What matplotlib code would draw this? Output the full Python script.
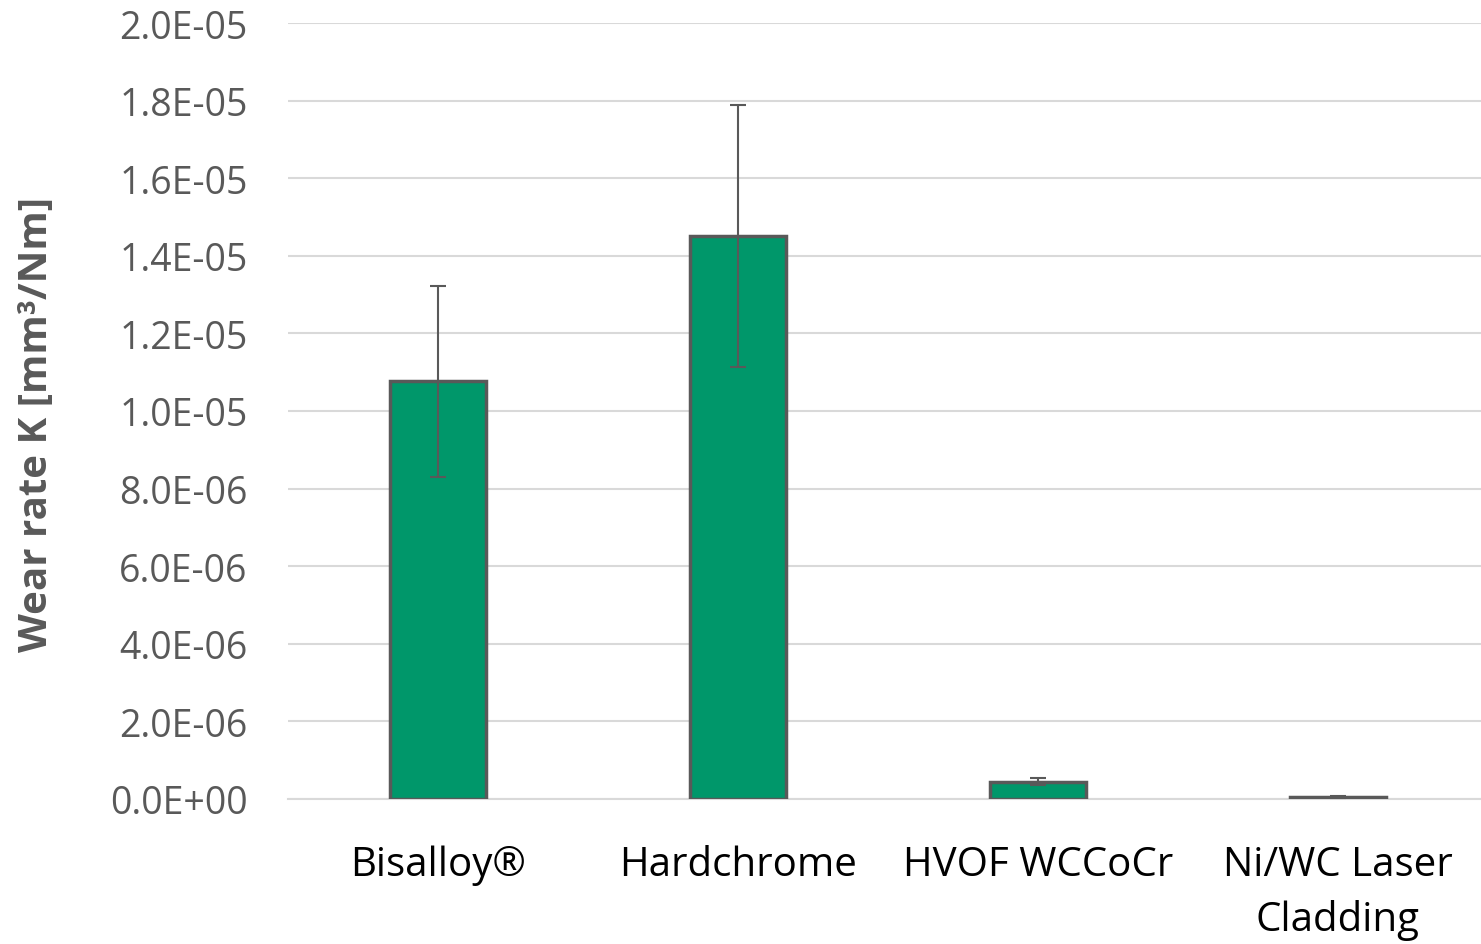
import matplotlib
matplotlib.use("Agg")
import matplotlib.pyplot as plt
import numpy as np

categories = ["Bisalloy®", "Hardchrome", "HVOF WCCoCr", "Ni/WC Laser\nCladding"]
wear_rate = [1.077e-05, 1.451e-05, 4.5e-07, 6.0e-08]
wear_err = [2.46e-06, 3.37e-06, 9.0e-08, 3.0e-08]
yticks = np.arange(0, 2.01e-05, 2e-06)
ytick_labels = ["0.0E+00", "2.0E-06", "4.0E-06", "6.0E-06", "8.0E-06", "1.0E-05",
                "1.2E-05", "1.4E-05", "1.6E-05", "1.8E-05", "2.0E-05"]

plt.rcParams['font.family'] = ['Open Sans', 'DejaVu Sans']
W, H = 1481, 945
fig = plt.figure(figsize=(W/100, H/100), dpi=100)
ax = fig.add_axes([288/W, 1 - 800/H, 1200/W, 776/H])

gray = "#595959"
x = np.arange(len(categories))
ax.bar(x, wear_rate, width=0.32, color="#00976A", edgecolor=gray, linewidth=2.5, zorder=3)
ax.errorbar(x, wear_rate, yerr=wear_err, fmt="none", ecolor=gray, elinewidth=1.5,
            capsize=6, capthick=1.5, zorder=4)

ax.set_xlim(-0.5, len(categories) - 0.5)
ax.set_ylim(0, 2.0e-05)
ax.set_yticks(yticks)
ax.set_yticklabels(ytick_labels)
ax.yaxis.grid(True, color="#d9d9d9", linewidth=1.5, zorder=0)
ax.set_axisbelow(True)
for s in ["top", "right", "left"]:
    ax.spines[s].set_visible(False)
ax.spines["bottom"].set_color("#d9d9d9")
ax.spines["bottom"].set_linewidth(1.5)
ax.tick_params(axis="y", length=0, pad=29, labelsize=27, labelcolor=gray)
ax.tick_params(axis="x", length=0, pad=33, labelsize=29, labelcolor="black")
ax.set_xticks(x)
ax.set_xticklabels(categories, linespacing=1.45)

fig.text(37/W, 1 - 425/H, "Wear rate K [mm³/Nm]", rotation=90, ha="center", va="center",
         fontsize=29, fontweight="bold", color=gray)

fig.savefig("out.png", dpi=100)
